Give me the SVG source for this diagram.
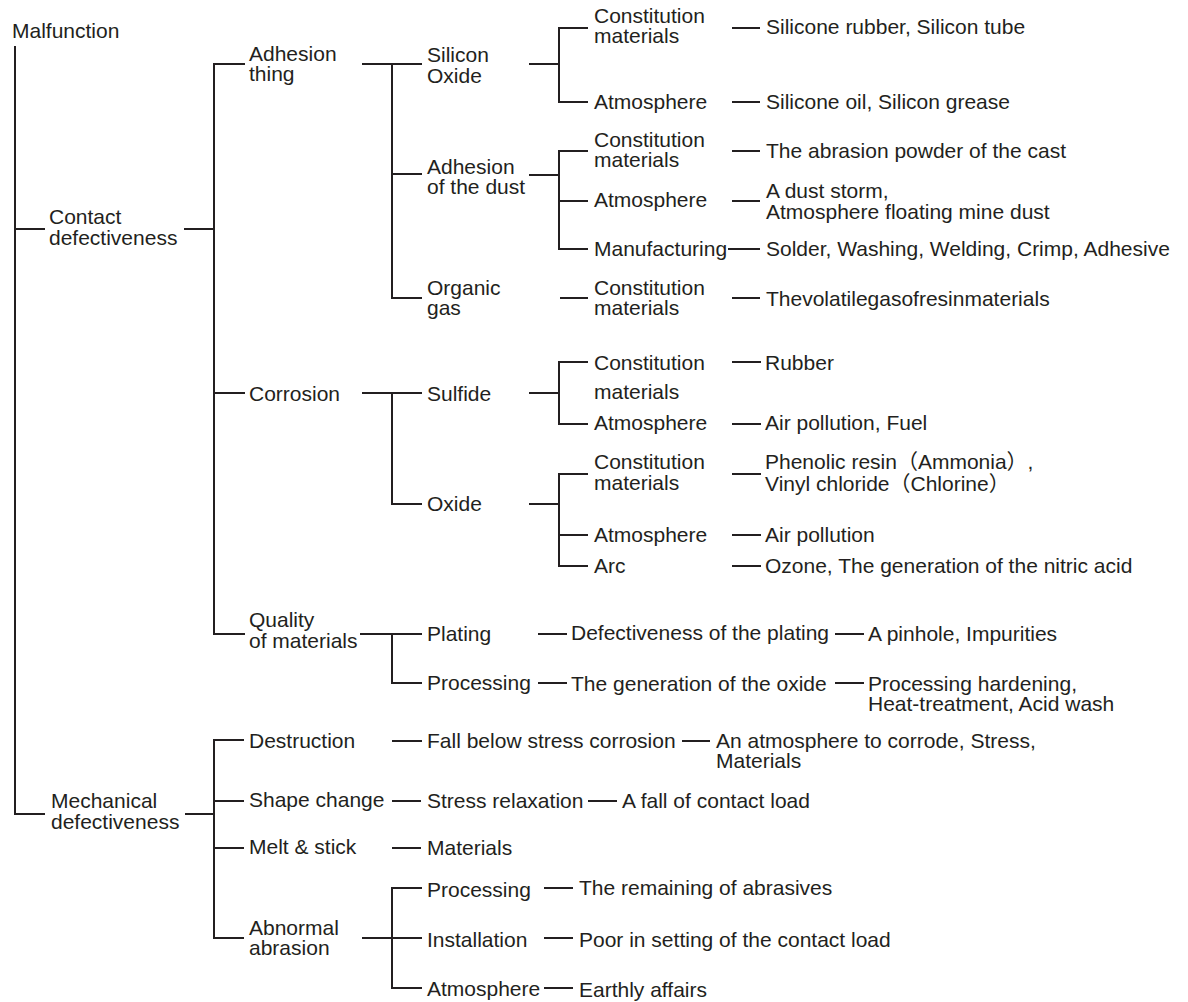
<svg xmlns="http://www.w3.org/2000/svg" width="1188" height="1002" viewBox="0 0 1188 1002">
<style>
text{font-family:"Liberation Sans","Noto Sans CJK JP",Arial,sans-serif;font-size:21px;fill:#231f20}
.c line{stroke:#231f20;stroke-width:2;fill:none}
</style>
<rect width="1188" height="1002" fill="#fff"/>
<g class="c" id="connectors">
<line x1="15" y1="46" x2="15" y2="815"/>
<line x1="14" y1="229" x2="45" y2="229"/>
<line x1="14" y1="814" x2="45" y2="814"/>
<line x1="184" y1="229" x2="214" y2="229"/>
<line x1="214" y1="63" x2="214" y2="635"/>
<line x1="213" y1="64" x2="245" y2="64"/>
<line x1="213" y1="393" x2="245" y2="393"/>
<line x1="213" y1="634" x2="245" y2="634"/>
<line x1="185" y1="814" x2="214" y2="814"/>
<line x1="214" y1="739" x2="214" y2="939"/>
<line x1="213" y1="740" x2="244" y2="740"/>
<line x1="213" y1="801" x2="244" y2="801"/>
<line x1="213" y1="848" x2="244" y2="848"/>
<line x1="213" y1="938" x2="244" y2="938"/>
<line x1="362" y1="64" x2="422" y2="64"/>
<line x1="392" y1="63" x2="392" y2="299"/>
<line x1="391" y1="174" x2="422" y2="174"/>
<line x1="391" y1="298" x2="422" y2="298"/>
<line x1="362" y1="393" x2="422" y2="393"/>
<line x1="392" y1="392" x2="392" y2="505"/>
<line x1="391" y1="504" x2="422" y2="504"/>
<line x1="360" y1="634" x2="422" y2="634"/>
<line x1="392" y1="633" x2="392" y2="684"/>
<line x1="391" y1="683" x2="422" y2="683"/>
<line x1="392" y1="741" x2="422" y2="741"/>
<line x1="392" y1="801" x2="421" y2="801"/>
<line x1="392" y1="848" x2="421" y2="848"/>
<line x1="362" y1="938" x2="422" y2="938"/>
<line x1="392" y1="887" x2="392" y2="989"/>
<line x1="391" y1="888" x2="422" y2="888"/>
<line x1="391" y1="988" x2="422" y2="988"/>
<line x1="529" y1="64" x2="559" y2="64"/>
<line x1="559" y1="27" x2="559" y2="103"/>
<line x1="558" y1="28" x2="588" y2="28"/>
<line x1="558" y1="102" x2="588" y2="102"/>
<line x1="529" y1="175" x2="559" y2="175"/>
<line x1="559" y1="150" x2="559" y2="250"/>
<line x1="558" y1="151" x2="588" y2="151"/>
<line x1="558" y1="201" x2="588" y2="201"/>
<line x1="558" y1="249" x2="588" y2="249"/>
<line x1="560" y1="298" x2="588" y2="298"/>
<line x1="529" y1="393" x2="559" y2="393"/>
<line x1="559" y1="361" x2="559" y2="425"/>
<line x1="558" y1="362" x2="588" y2="362"/>
<line x1="558" y1="424" x2="588" y2="424"/>
<line x1="529" y1="504" x2="559" y2="504"/>
<line x1="559" y1="473" x2="559" y2="567"/>
<line x1="558" y1="474" x2="588" y2="474"/>
<line x1="558" y1="535" x2="588" y2="535"/>
<line x1="558" y1="566" x2="588" y2="566"/>
<line x1="732" y1="28" x2="760" y2="28"/>
<line x1="732" y1="102" x2="760" y2="102"/>
<line x1="732" y1="151" x2="760" y2="151"/>
<line x1="732" y1="201" x2="760" y2="201"/>
<line x1="728" y1="249" x2="760" y2="249"/>
<line x1="732" y1="298" x2="760" y2="298"/>
<line x1="732" y1="362" x2="761" y2="362"/>
<line x1="732" y1="424" x2="761" y2="424"/>
<line x1="732" y1="474" x2="761" y2="474"/>
<line x1="732" y1="535" x2="761" y2="535"/>
<line x1="732" y1="566" x2="761" y2="566"/>
<line x1="538" y1="634" x2="567" y2="634"/>
<line x1="835" y1="634" x2="864" y2="634"/>
<line x1="538" y1="683" x2="567" y2="683"/>
<line x1="835" y1="683" x2="864" y2="683"/>
<line x1="682" y1="741" x2="710" y2="741"/>
<line x1="588" y1="801" x2="617" y2="801"/>
<line x1="544" y1="888" x2="573" y2="888"/>
<line x1="544" y1="938" x2="573" y2="938"/>
<line x1="544" y1="988" x2="573" y2="988"/>
</g>
<g id="n-malfunction"><text x="12" y="38">Malfunction</text></g>
<g id="n-contact"><text x="49" y="224">Contact</text><text x="49" y="245">defectiveness</text></g>
<g id="n-mechanical"><text x="51" y="808">Mechanical</text><text x="51" y="829">defectiveness</text></g>
<g id="n-adhesion-thing"><text x="249" y="61">Adhesion</text><text x="249" y="81">thing</text></g>
<g id="n-corrosion"><text x="249" y="401">Corrosion</text></g>
<g id="n-quality"><text x="249" y="627">Quality</text><text x="249" y="648">of materials</text></g>
<g id="n-destruction"><text x="249" y="748">Destruction</text></g>
<g id="n-shape"><text x="249" y="807">Shape change</text></g>
<g id="n-melt"><text x="249" y="854">Melt &amp; stick</text></g>
<g id="n-abnormal"><text x="249" y="935">Abnormal</text><text x="249" y="955">abrasion</text></g>
<g id="n-silicon"><text x="427" y="62">Silicon</text><text x="427" y="83">Oxide</text></g>
<g id="n-dust"><text x="427" y="174">Adhesion</text><text x="427" y="194">of the dust</text></g>
<g id="n-organic"><text x="427" y="295">Organic</text><text x="427" y="315">gas</text></g>
<g id="n-sulfide"><text x="427" y="401">Sulfide</text></g>
<g id="n-oxide"><text x="427" y="511">Oxide</text></g>
<g id="n-plating"><text x="427" y="641">Plating</text></g>
<g id="n-processing1"><text x="427" y="690">Processing</text></g>
<g id="n-fall"><text x="427" y="748">Fall below stress corrosion</text></g>
<g id="n-stress"><text x="427" y="808">Stress relaxation</text></g>
<g id="n-materials"><text x="427" y="855">Materials</text></g>
<g id="n-processing2"><text x="427" y="897">Processing</text></g>
<g id="n-installation"><text x="427" y="947">Installation</text></g>
<g id="n-atmosphere-ab"><text x="427" y="996">Atmosphere</text></g>
<g id="n-const1"><text x="594" y="23">Constitution</text><text x="594" y="43">materials</text></g>
<g id="n-atm1"><text x="594" y="109">Atmosphere</text></g>
<g id="n-const2"><text x="594" y="147">Constitution</text><text x="594" y="167">materials</text></g>
<g id="n-atm2"><text x="594" y="207">Atmosphere</text></g>
<g id="n-manufacturing"><text x="594" y="256">Manufacturing</text></g>
<g id="n-const3"><text x="594" y="295">Constitution</text><text x="594" y="315">materials</text></g>
<g id="n-const4"><text x="594" y="370">Constitution</text><text x="594" y="399">materials</text></g>
<g id="n-atm3"><text x="594" y="430">Atmosphere</text></g>
<g id="n-const5"><text x="594" y="469">Constitution</text><text x="594" y="490">materials</text></g>
<g id="n-atm4"><text x="594" y="542">Atmosphere</text></g>
<g id="n-arc"><text x="594" y="573">Arc</text></g>
<g id="n-leaf1"><text x="766" y="34">Silicone rubber, Silicon tube</text></g>
<g id="n-leaf2"><text x="766" y="109">Silicone oil, Silicon grease</text></g>
<g id="n-leaf3"><text x="766" y="158">The abrasion powder of the cast</text></g>
<g id="n-leaf4"><text x="766" y="198">A dust storm,</text><text x="766" y="219">Atmosphere floating mine dust</text></g>
<g id="n-leaf5"><text x="766" y="256">Solder, Washing, Welding, Crimp, Adhesive</text></g>
<g id="n-leaf6"><text x="766" y="306">Thevolatilegasofresinmaterials</text></g>
<g id="n-leaf7"><text x="765" y="370">Rubber</text></g>
<g id="n-leaf8"><text x="765" y="430">Air pollution, Fuel</text></g>
<g id="n-leaf9"><text x="765" y="469">Phenolic resin（Ammonia）,</text><text x="765" y="491">Vinyl chloride（Chlorine）</text></g>
<g id="n-leaf10"><text x="765" y="542">Air pollution</text></g>
<g id="n-leaf11"><text x="765" y="573">Ozone, The generation of the nitric acid</text></g>
<g id="n-defplating"><text x="571" y="640">Defectiveness of the plating</text></g>
<g id="n-pinhole"><text x="868" y="641">A pinhole, Impurities</text></g>
<g id="n-genoxide"><text x="571" y="691">The generation of the oxide</text></g>
<g id="n-hardening"><text x="868" y="691">Processing hardening,</text><text x="868" y="711">Heat-treatment, Acid wash</text></g>
<g id="n-corrode"><text x="716" y="748">An atmosphere to corrode, Stress,</text><text x="716" y="768">Materials</text></g>
<g id="n-contactload"><text x="622" y="808">A fall of contact load</text></g>
<g id="n-abrasives"><text x="579" y="895">The remaining of abrasives</text></g>
<g id="n-setting"><text x="579" y="947">Poor in setting of the contact load</text></g>
<g id="n-earthly"><text x="579" y="997">Earthly affairs</text></g>
</svg>
